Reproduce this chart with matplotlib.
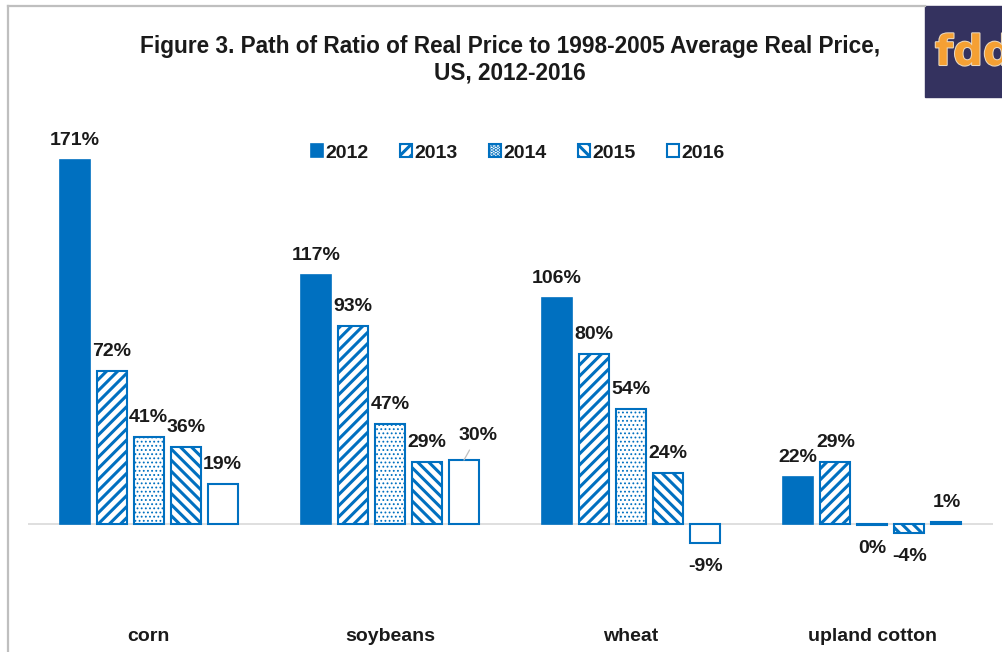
import numpy as np
import matplotlib
matplotlib.use("Agg")
import matplotlib.pyplot as plt
from matplotlib.patches import Rectangle
from matplotlib.lines import Line2D
import matplotlib.patheffects as pe

plt.rcParams["font.family"] = ["Liberation Sans", "DejaVu Sans"]
plt.rcParams["hatch.linewidth"] = 2.2

categories = ["corn", "soybeans", "wheat", "upland cotton"]
years = ["2012", "2013", "2014", "2015", "2016"]
values = {
    "2012": [171, 117, 106, 22],
    "2013": [72, 93, 80, 29],
    "2014": [41, 47, 54, -0.3],
    "2015": [36, 29, 24, -4],
    "2016": [19, 30, -9, 1],
}
hatches = [None, "///", "....", "\\\\\\", None]

BLUE = "#0070C0"
TXT = "#1a1a1a"
W, H = 1003, 652

fig = plt.figure(figsize=(W / 100, H / 100), dpi=100)

# axes placed in pixel terms
left, right, top, bottom = 28, 993, 110, 600
ax = fig.add_axes([left / W, 1 - bottom / H, (right - left) / W, (bottom - top) / H])

# zero line at px 524, 2.13 px per percent
zero_px, ppp = 524, 2.13
ax.set_ylim(-(bottom - zero_px) / ppp, (zero_px - top) / ppp)
ax.set_xlim(-0.5, 3.5)

x = np.arange(len(categories))
step = 37 / 241
width = 30 / 241

handles = []
for i, yr in enumerate(years):
    pos = x + (i - 2) * step
    if i == 0:
        bars = ax.bar(pos, values[yr], width, color=BLUE, edgecolor=BLUE,
                      linewidth=1.2, zorder=3)
    else:
        hlw = 0.8 if hatches[i] == "...." else 2.2
        with plt.rc_context({"hatch.linewidth": hlw}):
            bars = ax.bar(pos, values[yr], width, facecolor="white",
                          edgecolor=BLUE, hatch=hatches[i], linewidth=1.5,
                          zorder=3)
        for b in bars:
            if hasattr(b, "set_hatch_linewidth"):
                b.set_hatch_linewidth(hlw)
    handles.append(bars)
    for j, (xp, v) in enumerate(zip(pos, values[yr])):
        label = "{0:.0f}%".format(abs(v) if round(v) == 0 else v)
        if yr == "2016" and categories[j] == "soybeans":
            # label pushed up-right with a leader line
            ax.annotate(label, xy=(xp, v), xytext=(10, 18),
                        textcoords="offset points", ha="center", va="center",
                        fontsize=14, fontweight="bold", color=TXT,
                        arrowprops=dict(arrowstyle="-", color="#BFBFBF",
                                        lw=0.9, shrinkA=3, shrinkB=0))
            continue
        off = 14 if v > 0 else -17
        ax.annotate(label, xy=(xp, v), xytext=(0, off),
                    textcoords="offset points", ha="center", va="center",
                    fontsize=14, fontweight="bold", color=TXT)

ax.axhline(0, color="#D9D9D9", lw=1.2, zorder=2)
for s in ax.spines.values():
    s.set_visible(False)
ax.set_yticks([])
ax.set_xticks(x)
ax.set_xticklabels(categories, fontsize=14, fontweight="bold", color=TXT)
ax.tick_params(axis="x", length=0, pad=20)

leg_x = (518 - left) / (right - left)
leg_y = 1 - (153 - top) / (bottom - top)
leg = ax.legend(handles, years, loc="center", bbox_to_anchor=(leg_x, leg_y),
                ncol=5, frameon=False, fontsize=14, handlelength=0.6,
                handleheight=0.6, handletextpad=0.15, columnspacing=1.6)
for t in leg.get_texts():
    t.set_fontweight("bold")
    t.set_color(TXT)

fig.text(510 / W, 1 - 47 / H,
         "Figure 3. Path of Ratio of Real Price to 1998-2005 Average Real Price,",
         ha="center", va="center", fontsize=16.3, fontweight="bold", color=TXT)
fig.text(510 / W, 1 - 73 / H, "US, 2012-2016",
         ha="center", va="center", fontsize=16.3, fontweight="bold", color=TXT)

# chart border
fig.add_artist(Line2D([8 / W, 8 / W], [0, 1 - 6 / H], color="#BFBFBF", lw=1.6))
fig.add_artist(Line2D([8 / W, 925 / W], [1 - 6 / H, 1 - 6 / H], color="#BFBFBF", lw=1.6))

# fdd logo
fig.add_artist(Rectangle((925 / W, 1 - 97 / H), 78 / W, 91 / H,
                         transform=fig.transFigure, color="#34325F"))
fig.text(935 / W, 1 - 53 / H, "fdd", ha="left", va="center", fontsize=30,
         fontweight="bold", color="#F5A033", family="DejaVu Sans",
         path_effects=[pe.withStroke(linewidth=1.5, foreground="#E8D8C0")])

fig.savefig("out.png", dpi=100)
